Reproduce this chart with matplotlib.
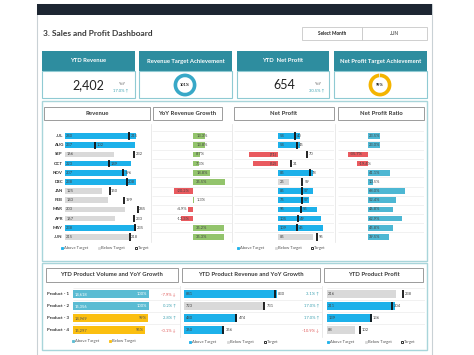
import matplotlib
matplotlib.use('Agg')
import matplotlib.pyplot as plt
from matplotlib.patches import Rectangle
import numpy as np

# ---------------- data ----------------
months = ['JUL', 'AUG', 'SEP', 'OCT', 'NOV', 'DEC', 'JAN', 'FEB', 'MAR', 'APR', 'MAY', 'JUN']
revenue = [240, 237, 166, 223, 207, 238, 125, 143, 203, 167, 238, 215]
revenue_target = [215, 102, 232, 149, 196, 208, 150, 199, 245, 233, 235, 218]
yoy_growth = [13.3, 13.8, 8.7, 7.3, 18.8, 35.5, -20.2, 1.3, -4.9, -12.3, 35.2, 35.3]
net_profit = [54, 54, -71, -62, 85, 25, 85, 75, 95, 105, 109, 85]
net_profit_target = [40, 45, 70, 31, 78, 59, 57, 57, 55, 49, 45, 95]
profit_ratio = [23.5, 23.0, -35.7, -19.4, 41.1, 10.5, 68.0, 52.4, 46.8, 62.9, 45.8, 39.5]

products = ['Product - 1', 'Product - 2', 'Product - 3', 'Product - 4']
volume = [14618, 15356, 14969, 15297]
volume_achv = [100, 100, 99, 95]
volume_growth = [-7.9, 0.2, 2.8, -0.1]
prod_revenue = [841, 723, 480, 360]
prod_revenue_target = [830, 731, 474, 356]
prod_revenue_growth = [3.1, 17.0, 17.0, -10.9]
prod_profit = [216, 211, 139, 88]
prod_profit_target = [238, 204, 136, 102]

kpi_titles = ['YTD Revenue', 'Revenue Target Achievement', 'YTD  Net Profit', 'Net Profit Target Achievement']
ytd_revenue, revenue_yoy, revenue_achv = 2402, 17.0, 101
ytd_profit, profit_yoy, profit_achv = 654, 30.5, 99
selected_month = 'JUN'

# ---------------- style ----------------
plt.rcParams['font.family'] = ['Lato', 'DejaVu Sans']
W, H = 474, 355
TEAL_HDR = '#2e8d9f'
BLUE = '#1db1ea'
GREY = '#d9d9d9'
GREEN = '#93c46c'
RED = '#e95a5f'
RATIO = '#4db7d3'
VTEAL = '#5bbcd3'
GOLD = '#fbbf10'
UPC = '#3aa0b0'
DNC = '#e05a5a'
TXT = '#3a3a3a'

fig = plt.figure(figsize=(W / 100, H / 100), dpi=100)
bg = fig.add_axes([0, 0, 1, 1])
bg.set_xlim(0, W)
bg.set_ylim(H, 0)
bg.axis('off')


def rect(x0, y0, x1, y1, fc='none', ec='none', lw=0.8, z=1):
    bg.add_patch(Rectangle((x0, y0), x1 - x0, y1 - y0, facecolor=fc, edgecolor=ec, lw=lw, zorder=z))


def px_axes(x0, y0, x1, y1):
    ax = fig.add_axes([x0 / W, 1 - y1 / H, (x1 - x0) / W, (y1 - y0) / H])
    ax.patch.set_alpha(0)
    return ax


def row_axes(x0, x1, y0, y1, xlim, n):
    ax = px_axes(x0, y0, x1, y1)
    ax.set_xlim(*xlim)
    ax.set_ylim(n - 0.5, -0.5)
    ax.axis('off')
    return ax


def legend(items, y):
    for x, color, edge, label in items:
        bg.plot(x, y, marker='s', ms=2.0, mfc=color, mec=edge, mew=0.6, zorder=5)
        bg.text(x + 2.2, y, label, fontsize=3, va='center', color='#555', zorder=5)


# frame
rect(37, 4, 432, 358, fc='white', ec='#c9d1d5', lw=0.8)
rect(37, 4, 432, 15, fc='#1d2632')
bg.text(43, 34, '3. Sales and Profit Dashboard', fontsize=6, fontweight='bold', color=TXT, va='center')
rect(302, 27, 362, 40, fc='white', ec='#c8c8c8', lw=0.6)
rect(362, 27, 427, 40, fc='white', ec='#c8c8c8', lw=0.6)
bg.text(332, 33.5, 'Select Month', fontsize=3.4, fontweight='bold', ha='center', va='center', color='#222')
bg.text(394.5, 33.5, selected_month, fontsize=3.4, ha='center', va='center', color='#222')

# KPI cards
cards = [(42, 135), (139, 232), (237, 329), (334, 427)]
for (x0, x1), t in zip(cards, kpi_titles):
    rect(x0, 51, x1, 71, fc=TEAL_HDR)
    rect(x0, 71, x1, 98, fc='white', ec='#8fcad3', lw=0.8)
    bg.text((x0 + x1) / 2, 61, t, fontsize=4.2, fontweight='bold', color='white', ha='center', va='center')

bg.text(88, 85, f'{ytd_revenue:,}', fontsize=9, ha='center', va='center', color='#222')
bg.text(122, 84, 'YoY', fontsize=2.8, color='#666', ha='center', va='center')
bg.text(121, 91, f'{revenue_yoy:.1f}% ↑', fontsize=3, color=UPC, ha='center', va='center')
bg.text(284, 85, f'{ytd_profit:,}', fontsize=9, ha='center', va='center', color='#222')
bg.text(318, 84, 'YoY', fontsize=2.8, color='#666', ha='center', va='center')
bg.text(317, 91, f'{profit_yoy:.1f}% ↑', fontsize=3, color=UPC, ha='center', va='center')


def donut(cx, cy, val, color):
    ax = px_axes(cx - 12, cy - 12, cx + 12, cy + 12)
    ax.pie([min(val, 100), max(0, 100 - val)], colors=[color, '#e3e3e3'], startangle=90,
           counterclock=False, radius=1, wedgeprops=dict(width=0.32, edgecolor='none'))
    ax.set_xlim(-1.05, 1.05)
    ax.set_ylim(-1.05, 1.05)
    ax.set_aspect('equal')
    ax.text(0, 0, f'{val}%', fontsize=2.8, fontweight='bold', ha='center', va='center', color='#222')


donut(185, 85, revenue_achv, '#38a8c7')
donut(380, 85, profit_achv, '#f4b400')

# middle section
rect(42, 101, 427, 261, ec='#a8d5da', lw=1)
for (x0, x1), t in zip([(44, 150), (153, 222), (234, 334), (338, 424)],
                       ['Revenue', 'YoY Revenue Growth', 'Net Profit', 'Net Profit Ratio']):
    rect(x0, 107, x1, 120, fc='white', ec='#8c8c8c', lw=0.6)
    bg.text((x0 + x1) / 2, 113.5, t, fontsize=4.3, fontweight='bold', ha='center', va='center', color=TXT)
for x in [151.5, 232.5, 335.5]:
    bg.plot([x, x], [124, 242], color='#e2e2e2', lw=0.5)

Y0, Y1 = 131.4, 241.6
n = len(months)
rows = np.arange(n)

# Revenue
ax = row_axes(65, 150, Y0, Y1, (0, 286), n)
for i, (v, t, m) in enumerate(zip(revenue, revenue_target, months)):
    ax.barh(i, v, height=0.62, color=BLUE if v >= t else GREY)
    ax.plot([t, t], [i - 0.4, i + 0.4], color='#111', lw=1.3, solid_capstyle='butt')
    ax.text(4, i, str(v), fontsize=2.9, va='center', color='#444')
    ax.text(t + 5, i, str(t), fontsize=2.9, va='center', color='#444')
    ax.text(-7, i, m, fontsize=3.2, ha='right', va='center', color='#333', fontweight='bold')

# YoY growth
ax = row_axes(152, 232, Y0, Y1, (-45, 43.7), n)
ax.hlines(np.arange(-0.5, n), -45, 43.7, color='#e6e6e6', lw=0.4, zorder=0)
for i, g in enumerate(yoy_growth):
    ax.barh(i, g, height=0.62, color=GREEN if g >= 0 else RED)
    if g >= 0:
        ax.text(max(2, 0) + (g + 0.8 if g < 5 else 2), i, f'{g:.1f}%', fontsize=2.9, va='center', color='#444')
    else:
        xx = -3 if g < -10 else g - 0.8
        ax.text(xx, i, f'{g:.1f}%', fontsize=2.9, va='center', ha='right', color='#444')

# Net profit
ax = row_axes(234, 334, Y0, Y1, (-108, 136), n)
ax.hlines(np.arange(-0.5, n), -108, 136, color='#e6e6e6', lw=0.4, zorder=0)
for i, (v, t) in enumerate(zip(net_profit, net_profit_target)):
    c = RED if v < 0 else (BLUE if v >= t else GREY)
    ax.barh(i, v, height=0.62, color=c)
    ax.plot([t, t], [i - 0.4, i + 0.4], color='#111', lw=1.3, solid_capstyle='butt')
    if v < 0:
        ax.text(-4, i, f'({-v})', fontsize=2.9, va='center', ha='right', color='#444')
    else:
        ax.text(4, i, str(v), fontsize=2.9, va='center', color='#444')
    ax.text(t + 5, i, str(t), fontsize=2.9, va='center', color='#444')

# Net profit ratio
ax = row_axes(338, 424, Y0, Y1, (-55, 104), n)
ax.hlines(np.arange(-0.5, n), -55, 104, color='#e6e6e6', lw=0.4, zorder=0)
for i, r in enumerate(profit_ratio):
    ax.barh(i, r, height=0.62, color=RATIO if r >= 0 else RED)
    if r >= 0:
        ax.text(2, i, f'{r:.1f}%', fontsize=2.9, va='center', color='#444')
    else:
        ax.text(r + 2, i, f'{r:.1f}%', fontsize=2.9, va='center', color='#444')

legend([(62, BLUE, BLUE, 'Above Target'), (99, GREY, GREY, 'Below Target'),
        (136, 'white', '#111', 'Target')], 248)
legend([(238, BLUE, BLUE, 'Above Target'), (276, GREY, GREY, 'Below Target'),
        (312, 'white', '#111', 'Target')], 248)

# bottom section
rect(42, 263, 427, 350, ec='#a8d5da', lw=1)
for (x0, x1), t in zip([(46, 178), (182, 320), (324, 423)],
                       ['YTD Product Volume and YoY Growth', 'YTD Product Revenue and YoY Growth',
                        'YTD Product Profit']):
    rect(x0, 268, x1, 282, fc='white', ec='#8c8c8c', lw=0.6)
    bg.text((x0 + x1) / 2, 275, t, fontsize=4.3, fontweight='bold', ha='center', va='center', color=TXT)
for x in [180, 322]:
    bg.plot([x, x], [286, 337], color='#e2e2e2', lw=0.5)

B0, B1 = 288, 336
m = len(products)

# volume
ax = row_axes(73, 180, B0, B1, (0, 140.8), m)
ax.hlines(np.arange(-0.5, m), 0, 140.8, color='#e6e6e6', lw=0.4, zorder=0)
for i, (p, v, a, g) in enumerate(zip(products, volume, volume_achv, volume_growth)):
    c = VTEAL if a >= 100 else GOLD
    ax.barh(i, a, height=0.62, color=c)
    tc = 'white' if a >= 100 else '#555'
    ax.text(2, i, f'{v:,}', fontsize=2.9, va='center', color=tc)
    ax.text(a - 2, i, f'{a}%', fontsize=2.9, va='center', ha='right', color=tc)
    ax.text(135.5, i, f'{g:.1f}% ' + ('↑' if g >= 0 else '↓'), fontsize=3, va='center', ha='right',
            color=UPC if g >= 0 else DNC)
    ax.text(-5, i, p, fontsize=3.2, va='center', ha='right', color='#333', fontweight='bold')

# product revenue
ax = row_axes(184, 322, B0, B1, (0, 1254), m)
ax.hlines(np.arange(-0.5, m), 0, 1254, color='#e6e6e6', lw=0.4, zorder=0)
for i, (v, t, g) in enumerate(zip(prod_revenue, prod_revenue_target, prod_revenue_growth)):
    ax.barh(i, v, height=0.62, color=BLUE if v >= t else GREY)
    ax.plot([t, t], [i - 0.36, i + 0.36], color='#111', lw=1.3, solid_capstyle='butt')
    ax.text(15, i, str(v), fontsize=2.9, va='center', color='#444')
    ax.text(t + 25, i, str(t), fontsize=2.9, va='center', color='#444')
    ax.text(1227, i, f'{g:.1f}% ' + ('↑' if g >= 0 else '↓'), fontsize=3, va='center', ha='right',
            color=UPC if g >= 0 else DNC)

# product profit
ax = row_axes(327, 425, B0, B1, (0, 306), m)
ax.hlines(np.arange(-0.5, m), 0, 306, color='#e6e6e6', lw=0.4, zorder=0)
for i, (v, t) in enumerate(zip(prod_profit, prod_profit_target)):
    ax.barh(i, v, height=0.62, color=BLUE if v >= t else GREY)
    ax.plot([t, t], [i - 0.36, i + 0.36], color='#111', lw=1.3, solid_capstyle='butt')
    ax.text(4, i, str(v), fontsize=2.9, va='center', color='#444')
    ax.text(t + 6, i, str(t), fontsize=2.9, va='center', color='#444')

legend([(73, VTEAL, VTEAL, 'Above Target'), (110, GOLD, GOLD, 'Below Target')], 341)
legend([(190, BLUE, BLUE, 'Above Target'), (228, GREY, GREY, 'Below Target'),
        (265, 'white', '#111', 'Target')], 342)
legend([(328, BLUE, BLUE, 'Above Target'), (366, GREY, GREY, 'Below Target'),
        (402, 'white', '#111', 'Target')], 342)

fig.savefig('out.png', dpi=100)
